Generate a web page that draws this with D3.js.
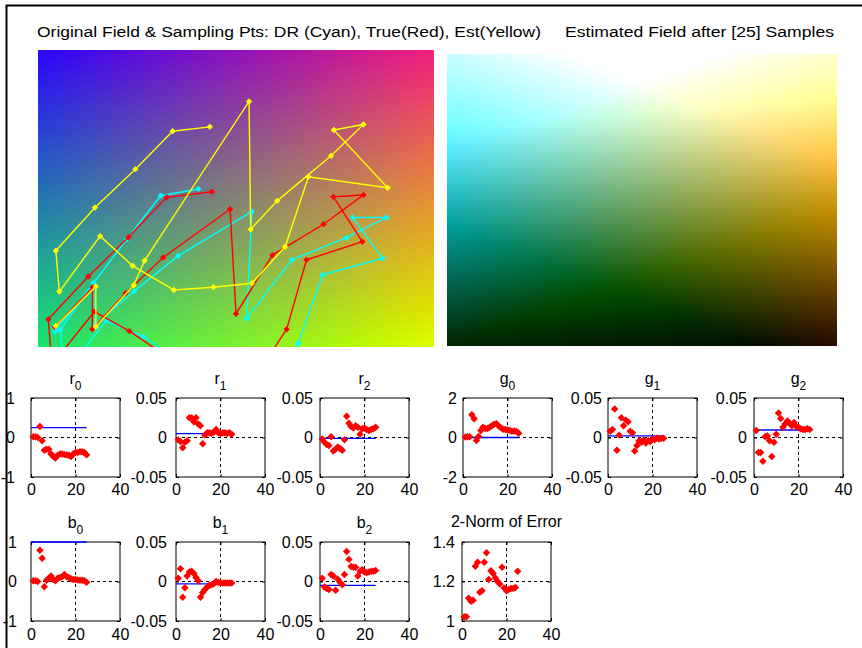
<!DOCTYPE html>
<html>
<head>
<meta charset="utf-8">
<script src="https://cdn.jsdelivr.net/npm/d3@7"></script>
<style>
  body { margin: 0; background: #fff; }
  text { font-family: Arial, "Liberation Sans", sans-serif; fill: #000; }
</style>
</head>
<body>
<svg id="chart"></svg>
<script>
// ---- sample index (1..25) ----
const sampleNo = d3.range(1, 26);

// ---- parameter estimates after each sample ----
const r0Est = [0.02, 0.02, 0.0, 0.28, -0.08, -0.32, -0.3, -0.3, -0.42, -0.48, -0.52, -0.45, -0.42, -0.42, -0.43, -0.44, -0.45, -0.48, -0.42, -0.38, -0.38, -0.36, -0.36, -0.38, -0.44];
const r1Est = [-0.003, -0.005, -0.013, -0.006, -0.004, 0.025, 0.025, 0.02, 0.025, 0.017, 0.015, -0.008, 0.003, 0.006, 0.006, 0.005, 0.007, 0.01, 0.006, 0.005, 0.006, 0.006, 0.005, 0.006, 0.004];
const r2Est = [-0.002, -0.006, -0.009, -0.01, 0.001, -0.017, -0.015, -0.012, -0.014, -0.016, -0.003, 0.027, 0.018, 0.014, 0.012, 0.015, 0.013, 0.004, 0.011, 0.012, 0.01, 0.009, 0.01, 0.011, 0.013];
const g0Est = [0.03, 0.04, 0.04, 1.15, 0.95, -0.15, 0.05, 0.35, 0.52, 0.45, 0.45, 0.52, 0.6, 0.67, 0.7, 0.58, 0.5, 0.42, 0.4, 0.38, 0.35, 0.32, 0.33, 0.31, 0.22];
const g1Est = [0.008, 0.01, 0.036, -0.016, 0.003, 0.025, 0.015, 0.022, 0.02, 0.008, 0.006, -0.017, -0.01, -0.004, -0.006, -0.003, -0.007, -0.004, -0.005, -0.002, -0.003, -0.001, -0.002, -0.001, -0.001];
const g2Est = [0.009, -0.019, -0.019, -0.03, 0.001, 0.002, -0.004, -0.024, -0.006, 0.004, 0.031, 0.024, 0.013, 0.017, 0.021, 0.018, 0.015, 0.019, 0.014, 0.013, 0.011, 0.01, 0.01, 0.011, 0.01];
const b0Est = [0.02, 0.02, 0.0, 0.79, 0.59, -0.13, 0.03, 0.08, 0.14, 0.05, 0.02, 0.08, 0.1, 0.12, 0.18, 0.12, 0.1, 0.07, 0.05, 0.05, 0.04, 0.03, 0.03, 0.02, -0.02];
const b1Est = [0.004, 0.016, -0.02, -0.008, 0.007, 0.012, 0.013, 0.01, 0.005, 0.001, -0.02, -0.014, -0.01, -0.007, -0.005, -0.004, -0.003, 0.0, -0.001, -0.002, -0.002, -0.002, -0.002, -0.002, -0.002];
const b2Est = [0.004, -0.007, -0.009, -0.01, 0.009, 0.007, -0.011, 0.003, -0.001, -0.004, 0.009, 0.038, 0.028, 0.019, 0.018, 0.018, 0.007, 0.013, 0.015, 0.012, 0.011, 0.012, 0.013, 0.013, 0.014];
const errNorm = [1.022, 1.022, 1.115, 1.1, 1.105, 1.277, 1.298, 1.145, 1.153, 1.298, 1.346, 1.21, 1.255, 1.24, 1.218, 1.2, 1.187, 1.272, 1.167, 1.153, 1.16, 1.165, 1.165, 1.17, 1.252];

// ---- true parameter values (r0 r1 r2 g0 g1 g2 b0 b1 b2) ----
const trueParams = [0.25, 0.005, -0.001, 0, 0.002, 0.0095, 1, -0.003, -0.005];

// ---- y-axis ticks ----
const ticksUnit = [-1, 0, 1];
const ticksSmall = [-0.05, 0, 0.05];
const ticksTwo = [-2, 0, 2];
const ticksNorm = [1, 1.2, 1.4];
const xTicks = [0, 20, 40];

// ---- field colour models: [const, per-x, per-y] in 0..1 intensity ----
const trueR = [0.17, 0.78, -0.08];
const trueG = [0.02, 0.10, 0.88];
const trueB = [0.98, -0.50, -0.55];
const estR = [0.78, 0.70, -1.33];
const estG = [1.29, -0.12, -1.14];
const estB = [1.49, -0.70, -1.49];

// ---- sampling paths in field units (x 0..100, y 0..75, y down) ----
const drPath = [[40.5,35.1],[31.0,36.8],[22.4,47.8],[14.0,58.9],[5.6,70.7],[6.8,81.6],[17.2,68.4],[26.6,72.4],[37.5,79.5],[47.6,79.5],[58.6,82.1],[65.7,74.1],[71.9,56.8],[87.0,52.6],[79.5,42.3],[88.0,42.3],[77.9,47.4],[64.1,53.0],[52.7,67.8],[54.0,40.8],[35.4,52.0],[24.3,60.9],[14.4,69.3],[14.0,58.9],[4.3,71.1]];
const truePath = [[43.9,35.8],[32.5,37.2],[22.8,47.3],[12.7,57.2],[2.6,68.0],[3.5,79.5],[14.2,66.1],[23.1,71.0],[33.3,77.9],[43.4,77.4],[56.9,79.5],[62.8,70.5],[67.8,53.0],[81.9,48.4],[74.6,37.1],[82.2,36.6],[72.1,44.0],[59.2,51.8],[50.0,66.6],[48.5,40.2],[31.6,52.4],[22.1,61.4],[13.7,70.5],[13.8,59.9],[4.3,69.9]];
const estPath = [[43.4,19.4],[34.0,20.5],[24.6,30.1],[14.4,39.8],[4.5,50.7],[5.4,61.0],[15.7,47.0],[23.9,54.5],[34.3,60.6],[44.3,59.9],[54.0,58.9],[62.4,49.7],[68.3,32.0],[88.3,34.8],[74.7,20.2],[82.2,18.8],[74.0,26.7],[60.4,38.1],[53.7,45.3],[53.3,13.0],[26.9,53.2],[24.2,59.4],[14.6,69.9],[14.6,59.7],[4.5,69.7]];

const W = 862, H = 648;
const svg = d3.select("#chart").attr("width", W).attr("height", H);

// window frame (top and left edges)
svg.append("path").attr("d", "M6.5,648V5.5H862")
  .attr("fill", "none").attr("stroke", "#000").attr("stroke-width", 2);

// ---------- field images ----------
function fieldImage(cR, cG, cB, w, h) {
  const cv = document.createElement("canvas");
  cv.width = w; cv.height = h;
  const ctx = cv.getContext("2d");
  const img = ctx.createImageData(w, h);
  const u = d3.scaleLinear([0, w - 1], [0, 1]);
  const v = d3.scaleLinear([0, h - 1], [0, 1]);
  const lvl = d3.scaleLinear([0, 1], [0, 255]).clamp(true);
  for (let j = 0; j < h; j++) {
    const vv = v(j);
    for (let i = 0; i < w; i++) {
      const uu = u(i), k = (j * w + i) * 4;
      img.data[k] = lvl(cR[0] + cR[1] * uu + cR[2] * vv);
      img.data[k + 1] = lvl(cG[0] + cG[1] * uu + cG[2] * vv);
      img.data[k + 2] = lvl(cB[0] + cB[1] * uu + cB[2] * vv);
      img.data[k + 3] = 255;
    }
  }
  ctx.putImageData(img, 0, 0);
  return cv.toDataURL();
}

const leftBox = { x: 38, y: 50, w: 396, h: 297 };
const rightBox = { x: 447, y: 54, w: 390, h: 292 };

svg.append("image").attr("x", leftBox.x).attr("y", leftBox.y)
  .attr("width", leftBox.w).attr("height", leftBox.h)
  .attr("preserveAspectRatio", "none")
  .attr("href", fieldImage(trueR, trueG, trueB, leftBox.w, leftBox.h));

svg.append("image").attr("x", rightBox.x).attr("y", rightBox.y)
  .attr("width", rightBox.w).attr("height", rightBox.h)
  .attr("preserveAspectRatio", "none")
  .attr("href", fieldImage(estR, estG, estB, rightBox.w, rightBox.h));

svg.append("text").attr("x", 37).attr("y", 37).attr("font-size", 15.5)
  .attr("textLength", 504).attr("lengthAdjust", "spacingAndGlyphs")
  .text("Original Field & Sampling Pts: DR (Cyan), True(Red), Est(Yellow)");
svg.append("text").attr("x", 565).attr("y", 37).attr("font-size", 15.5)
  .attr("textLength", 269).attr("lengthAdjust", "spacingAndGlyphs")
  .text("Estimated Field after [25] Samples");

// ---------- sampling paths ----------
const fx = d3.scaleLinear([0, 100], [leftBox.x, leftBox.x + leftBox.w]);
const fy = d3.scaleLinear([0, 75], [leftBox.y, leftBox.y + leftBox.h]);

svg.append("clipPath").attr("id", "fieldClip").append("rect")
  .attr("x", leftBox.x).attr("y", leftBox.y).attr("width", leftBox.w).attr("height", leftBox.h);

const pathLayer = svg.append("g").attr("clip-path", "url(#fieldClip)");
const diamondSmall = d3.symbol().type(d3.symbolSquare).size(15);
const lineGen = d3.line().x(d => fx(d[0])).y(d => fy(d[1]));

[[drPath, "#00ffff"], [truePath, "#ff0000"], [estPath, "#ffff00"]].forEach(([pts, col]) => {
  pathLayer.append("path").attr("d", lineGen(pts))
    .attr("fill", "none").attr("stroke", col).attr("stroke-width", 1.4);
  pathLayer.selectAll(null).data(pts).join("path")
    .attr("d", diamondSmall)
    .attr("transform", d => `translate(${fx(d[0])},${fy(d[1])}) rotate(45)`)
    .attr("fill", col).attr("stroke", col).attr("stroke-width", 0.8);
});

// ---------- parameter plots ----------
const plots = [
  { t: "r", s: "0", est: r0Est, truth: trueParams[0], ticks: ticksUnit, left: 31, top: 398, pad: 16 },
  { t: "r", s: "1", est: r1Est, truth: trueParams[1], ticks: ticksSmall, left: 176, top: 398, pad: 9 },
  { t: "r", s: "2", est: r2Est, truth: trueParams[2], ticks: ticksSmall, left: 320, top: 398, pad: 7 },
  { t: "g", s: "0", est: g0Est, truth: trueParams[3], ticks: ticksTwo, left: 463, top: 398, pad: 6 },
  { t: "g", s: "1", est: g1Est, truth: trueParams[4], ticks: ticksSmall, left: 608, top: 398, pad: 6 },
  { t: "g", s: "2", est: g2Est, truth: trueParams[5], ticks: ticksSmall, left: 754, top: 398, pad: 7 },
  { t: "b", s: "0", est: b0Est, truth: trueParams[6], ticks: ticksUnit, left: 31, top: 542, pad: 14 },
  { t: "b", s: "1", est: b1Est, truth: trueParams[7], ticks: ticksSmall, left: 176, top: 542, pad: 9 },
  { t: "b", s: "2", est: b2Est, truth: trueParams[8], ticks: ticksSmall, left: 320, top: 542, pad: 7 },
  { t: "2-Norm of Error", s: null, est: errNorm, truth: null, ticks: ticksNorm, left: 462, top: 542, pad: 7 }
];

const boxW = 89, boxH = 79;
const marker = d3.symbol().type(d3.symbolSquare).size(28);

plots.forEach(p => {
  const g = svg.append("g");
  const x = d3.scaleLinear([0, 40], [p.left, p.left + boxW]);
  const y = d3.scaleLinear([p.ticks[0], p.ticks[2]], [p.top + boxH, p.top]);

  // box
  g.append("rect").attr("x", p.left).attr("y", p.top).attr("width", boxW).attr("height", boxH)
    .attr("fill", "#fff").attr("stroke", "#000").attr("stroke-width", 1);

  // grid (inner tick positions)
  g.append("line").attr("x1", x(xTicks[1])).attr("x2", x(xTicks[1]))
    .attr("y1", p.top).attr("y2", p.top + boxH)
    .attr("stroke", "#000").attr("stroke-dasharray", "3,3");
  g.append("line").attr("x1", p.left).attr("x2", p.left + boxW)
    .attr("y1", y(p.ticks[1])).attr("y2", y(p.ticks[1]))
    .attr("stroke", "#000").attr("stroke-dasharray", "3,3");

  // axes with inward ticks
  g.append("g").attr("transform", `translate(0,${p.top + boxH})`)
    .call(d3.axisBottom(x).tickValues(xTicks).tickFormat(d => String(d))
      .tickSizeInner(-3).tickSizeOuter(0).tickPadding(p.top > 500 ? 8 : 6.5));
  g.append("g").attr("transform", `translate(${p.left},0)`)
    .call(d3.axisLeft(y).tickValues(p.ticks).tickFormat(d => String(d))
      .tickSizeInner(-3).tickSizeOuter(0).tickPadding(p.pad));
  g.append("g").attr("transform", `translate(0,${p.top})`)
    .call(d3.axisTop(x).tickValues(xTicks).tickFormat("").tickSizeInner(-3).tickSizeOuter(0));
  g.append("g").attr("transform", `translate(${p.left + boxW},0)`)
    .call(d3.axisRight(y).tickValues(p.ticks).tickFormat("").tickSizeInner(-3).tickSizeOuter(0));
  g.selectAll(".domain").remove();
  g.selectAll(".tick text").attr("font-size", 16).attr("font-family", "Arial, 'Liberation Sans', sans-serif").attr("fill", "#000");

  // true value
  if (p.truth !== null) {
    g.append("line").attr("x1", x(0)).attr("x2", x(sampleNo[sampleNo.length - 1]))
      .attr("y1", y(p.truth)).attr("y2", y(p.truth))
      .attr("stroke", "#0000ff").attr("stroke-width", 1.3);
  }

  // estimates
  g.selectAll(null).data(p.est).join("path")
    .attr("d", marker)
    .attr("transform", (d, i) => `translate(${x(sampleNo[i])},${y(d)}) rotate(45)`)
    .attr("fill", "#ff0000");

  // title
  const cx = p.left + boxW / 2;
  if (p.s !== null) {
    const t = svg.append("text").attr("x", cx).attr("y", p.top - 14)
      .attr("text-anchor", "middle").attr("font-size", 16);
    t.append("tspan").text(p.t);
    t.append("tspan").attr("dy", 6).attr("font-size", 12).text(p.s);
  } else {
    svg.append("text").attr("x", cx).attr("y", p.top - 15)
      .attr("text-anchor", "middle").attr("font-size", 16).text(p.t);
  }
});
</script>
</body>
</html>
